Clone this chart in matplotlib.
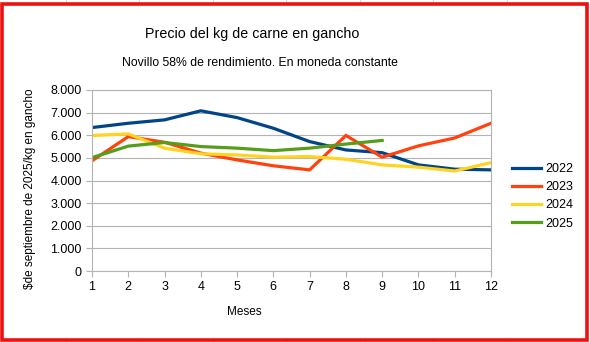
import matplotlib
matplotlib.use("Agg")
import matplotlib.pyplot as plt
from matplotlib.ticker import FuncFormatter
from matplotlib.patches import Rectangle

plt.rcParams['font.family'] = ['Liberation Sans', 'DejaVu Sans']

meses = [1, 2, 3, 4, 5, 6, 7, 8, 9, 10, 11, 12]
v2022 = [6340, 6530, 6680, 7080, 6780, 6310, 5720, 5350, 5230, 4690, 4500, 4470]
v2023 = [4870, 5940, 5690, 5210, 4910, 4650, 4470, 5990, 5030, 5530, 5880, 6530]
v2024 = [5990, 6060, 5430, 5180, 5130, 5030, 5060, 4940, 4690, 4590, 4420, 4790]
v2025 = [5010, 5520, 5680, 5500, 5430, 5320, 5430, 5610, 5770]
series = [("2022", v2022, "#004586"), ("2023", v2023, "#ff420e"),
          ("2024", v2024, "#ffd320"), ("2025", v2025, "#579d1c")]

fig = plt.figure(figsize=(5.9, 3.42), dpi=100)
W, H = 590, 342

# faint spreadsheet grid outside the red frame
for gx in [66, 139, 213, 286, 360, 433, 507]:
    fig.add_artist(plt.Line2D([gx / W, gx / W], [0, 1], color="#d8d8d8", lw=0.8, zorder=-3))

fig.add_artist(Rectangle((2 / W, 2 / H), 585 / W, 336 / H, facecolor="white",
                         edgecolor="#ee1111", lw=2.6, transform=fig.transFigure, zorder=-2))

ax = fig.add_axes([92 / W, 1 - 271 / H, 399 / W, 181 / H])
ax.patch.set_alpha(0)
for name, vals, col in series:
    ax.plot(meses[:len(vals)], vals, color=col, lw=2.3, label=name,
            solid_joinstyle="miter")

ax.set_xlim(1, 12)
ax.set_ylim(0, 8000)
ax.set_xticks(meses)
ax.set_yticks(range(0, 8001, 1000))
ax.yaxis.set_major_formatter(FuncFormatter(lambda v, p: f"{int(v):,}".replace(",", ".")))
ax.grid(axis="y", color="#b3b3b3", lw=0.8)
ax.set_axisbelow(True)
for s in ax.spines.values():
    s.set_color("#b3b3b3")
    s.set_linewidth(0.8)
ax.tick_params(colors="#b3b3b3", labelcolor="black", labelsize=9, length=4, width=0.8)

fig.text(252 / W, 1 - 34 / H, "Precio del kg de carne en gancho", ha="center", va="center", fontsize=10.3)
fig.text(260 / W, 1 - 63 / H, "Novillo 58% de rendimiento. En moneda constante", ha="center",
         va="center", fontsize=8.8)
fig.text(244 / W, 1 - 312 / H, "Meses", ha="center", va="center", fontsize=8.5)
fig.text(30 / W, 1 - 189 / H, "$de septiembre de 2025/kg en gancho", ha="center", va="center",
         rotation=90, fontsize=8.5)

ax.legend(loc="upper left", bbox_to_anchor=(507 / W, 1 - 158 / H), bbox_transform=fig.transFigure,
          frameon=False, fontsize=9, handlelength=2.3, handletextpad=0.4, labelspacing=0.5,
          borderaxespad=0)

fig.savefig("out.png", dpi=100)
